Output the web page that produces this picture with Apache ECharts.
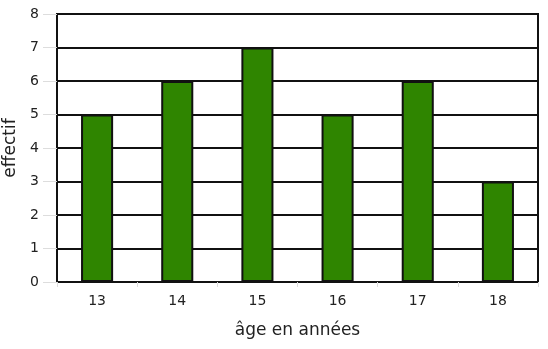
<!DOCTYPE html>
<html><head><meta charset="utf-8">
<script src="https://cdn.jsdelivr.net/npm/echarts@6/dist/echarts.min.js"></script>
<style>html,body{margin:0;padding:0;background:#fff}#c{width:548px;height:349px}</style>
</head><body><div id="c"></div>
<script>
const categories = ['13','14','15','16','17','18'];
const counts = [5, 6, 7, 5, 6, 3];
const chart = echarts.init(document.getElementById('c'), null, {renderer:'canvas'});
chart.setOption({
  animation:false,
  textStyle:{fontFamily:'DejaVu Sans'},
  grid:{left:57, right:10, top:14, bottom:67, containLabel:false, outerBoundsMode:'none',
    show:true, borderColor:'#111', borderWidth:2, backgroundColor:'transparent'},
  xAxis:{type:'category', data:categories,
    name:'âge en années', nameLocation:'middle', nameGap:40,
    nameTextStyle:{fontSize:17, color:'#222', fontFamily:'DejaVu Sans'},
    axisLine:{show:true, lineStyle:{color:'#111', width:2}},
    axisTick:{show:true, length:5, lineStyle:{color:'#ddd'}},
    axisLabel:{fontSize:14, color:'#222', margin:12, fontFamily:'DejaVu Sans'},
    splitLine:{show:false}},
  yAxis:{type:'value', min:0, max:8, interval:1,
    name:'effectif', nameLocation:'middle', nameGap:37,
    nameTextStyle:{fontSize:17, color:'#222', fontFamily:'DejaVu Sans'},
    axisLine:{show:true, lineStyle:{color:'#111', width:2}},
    axisTick:{show:true, length:14, lineStyle:{color:'#ddd'}},
    axisLabel:{fontSize:14, color:'#222', margin:18, fontFamily:'DejaVu Sans'},
    splitLine:{show:true, lineStyle:{color:'#111', width:2}}},
  series:[{type:'bar', data:counts, barWidth:'40%',
    itemStyle:{color:'#2f8500', borderColor:'#111', borderWidth:2}}]
});
</script></body></html>
